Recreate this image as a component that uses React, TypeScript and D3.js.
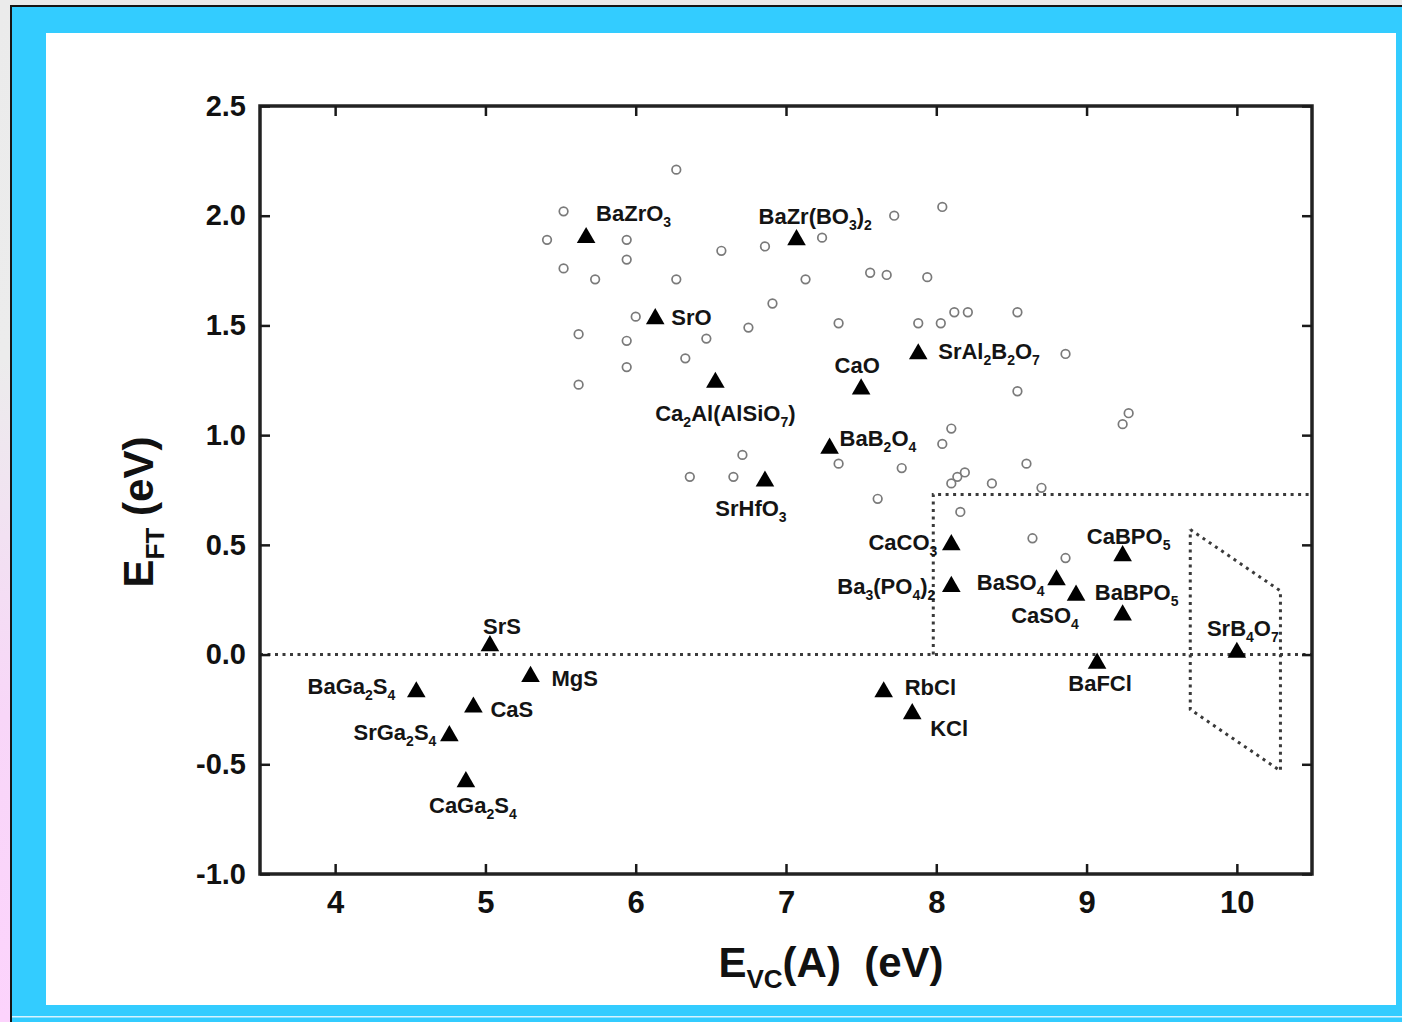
import React, { useEffect, useRef } from 'react';
import * as d3 from 'd3';

// labelled compounds (filled triangles)
const compounds = [
  'BaZrO3', 'BaZr(BO3)2', 'SrO', 'Ca2Al(AlSiO7)', 'CaO', 'SrAl2B2O7', 'BaB2O4', 'SrHfO3',
  'CaCO3', 'Ba3(PO4)2', 'BaSO4', 'CaSO4', 'CaBPO5', 'BaBPO5', 'SrB4O7', 'BaFCl',
  'RbCl', 'KCl', 'SrS', 'MgS', 'BaGa2S4', 'CaS', 'SrGa2S4', 'CaGa2S4',
];
const evcA = [
  5.67, 7.07, 6.13, 6.53, 7.50, 7.88, 7.29, 6.86,
  8.10, 8.10, 8.80, 8.93, 9.24, 9.24, 10.0, 9.07,
  7.65, 7.84, 5.03, 5.30, 4.54, 4.92, 4.76, 4.87,
];
const eft = [
  1.90, 1.89, 1.53, 1.24, 1.21, 1.37, 0.94, 0.79,
  0.50, 0.31, 0.34, 0.27, 0.45, 0.18, 0.01, -0.04,
  -0.17, -0.27, 0.04, -0.10, -0.17, -0.24, -0.37, -0.58,
];

// unlabelled compounds (open circles)
const otherX = [
  6.27, 5.52, 5.41, 5.94, 5.94, 5.52, 5.73, 6.27, 6.57, 6.86, 7.24, 7.72, 8.04, 7.13,
  7.56, 7.67, 7.94, 6.91, 6.00, 6.47, 6.75, 5.62, 5.94, 7.35, 7.88, 8.03, 8.12, 8.21,
  8.54, 6.33, 5.94, 5.62, 8.86, 8.54, 9.24, 9.28, 8.10, 8.04, 7.35, 7.77, 8.60, 7.61,
  8.19, 8.14, 8.10, 8.37, 8.70, 8.16, 8.64, 8.86, 6.71, 6.36, 6.65,
];
const otherY = [
  2.21, 2.02, 1.89, 1.89, 1.80, 1.76, 1.71, 1.71, 1.84, 1.86, 1.90, 2.00, 2.04, 1.71,
  1.74, 1.73, 1.72, 1.60, 1.54, 1.44, 1.49, 1.46, 1.43, 1.51, 1.51, 1.51, 1.56, 1.56,
  1.56, 1.35, 1.31, 1.23, 1.37, 1.20, 1.05, 1.10, 1.03, 0.96, 0.87, 0.85, 0.87, 0.71,
  0.83, 0.81, 0.78, 0.78, 0.76, 0.65, 0.53, 0.44, 0.91, 0.81, 0.81,
];

const xTicks = [4, 5, 6, 7, 8, 9, 10];
const yTicks = [2.5, 2.0, 1.5, 1.0, 0.5, 0.0, -0.5, -1.0];

// dotted guide lines (data coords)
const zeroLine = [[3.5, 0], [10.5, 0]];
const regionA = [[7.98, 0], [7.98, 0.73], [10.5, 0.73]];
const regionB = [[9.69, 0.57], [10.29, 0.29], [10.29, -0.53], [9.69, -0.25], [9.69, 0.57]];

// label placement: anchor, dx, dy (px from marker)
const labelPlace: [string, number, number][] = [
  ['start', 10, -17], ['start', -38, -16], ['start', 16, 6], ['middle', 10, 39],
  ['middle', -4, -16], ['start', 20, 5], ['start', 10, -2], ['middle', -14, 35],
  ['end', -14, 5], ['end', -16, 7], ['end', -12, 10], ['middle', -31, 28],
  ['middle', 6, -12], ['middle', 14, -15], ['middle', 6, -16], ['middle', 3, 28],
  ['start', 21, 3], ['start', 18, 22], ['middle', 12, -12], ['start', 21, 9],
  ['end', -21, 2], ['start', 17, 10], ['end', -13, 4], ['middle', 7, 31],
];

const W = 1402;
const H = 1022;
const L = 260, R = 1312, T = 106, B = 874;

const x = d3.scaleLinear().domain([3.5, 10.5]).range([L, R]);
const y = d3.scaleLinear().domain([-1, 2.5]).range([B, T]);

const fmt = (d: number) => d.toFixed(1).replace('\u2212', '-');

function Formula({ name, sub = 14, shift = 6 }: { name: string; sub?: number; shift?: number }) {
  const parts = name.split(/(\d+)/).filter((s) => s !== '');
  let down = false;
  return (
    <>
      {parts.map((p, i) => {
        const isSub = /^\d+$/.test(p);
        let dy: number | undefined;
        if (isSub && !down) { dy = shift; down = true; }
        else if (!isSub && down) { dy = -shift; down = false; }
        return (
          <tspan key={i} dy={dy} fontSize={isSub ? sub : undefined}>{p}</tspan>
        );
      })}
    </>
  );
}

export default function App() {
  const axRef = useRef<SVGGElement>(null);

  useEffect(() => {
    const g = d3.select(axRef.current);
    g.selectAll('*').remove();

    const bottom = g.append('g').attr('transform', `translate(0,${B})`)
      .call(d3.axisBottom(x).tickValues(xTicks).tickSize(-10).tickPadding(17).tickFormat(d3.format('d')));
    const left = g.append('g').attr('transform', `translate(${L},0)`)
      .call(d3.axisLeft(y).tickValues(yTicks).tickSize(-10).tickPadding(14).tickFormat((d) => fmt(+d)));
    const top = g.append('g').attr('transform', `translate(0,${T})`)
      .call(d3.axisTop(x).tickValues(xTicks).tickSize(-10).tickFormat(() => ''));
    const right = g.append('g').attr('transform', `translate(${R},0)`)
      .call(d3.axisRight(y).tickValues(yTicks).tickSize(-10).tickFormat(() => ''));

    [bottom, left, top, right].forEach((a) => {
      a.select('.domain').remove();
      a.selectAll('.tick line').attr('stroke', '#1a1a1a').attr('stroke-width', 2.5);
      a.selectAll('.tick text')
        .attr('fill', '#111')
        .attr('font-family', '"Liberation Sans", Arial, sans-serif')
        .attr('font-weight', 'bold');
    });
    bottom.selectAll('.tick text').attr('font-size', 31);
    left.selectAll('.tick text').attr('font-size', 29);
  }, []);

  const line = d3.line<number[]>().x((d) => x(d[0])).y((d) => y(d[1]));
  const tri = d3.symbol().type(d3.symbolTriangle).size(150)();

  return (
    <svg width={W} height={H} style={{ position: 'absolute', left: 0, top: 0 }}
      fontFamily='"Liberation Sans", Arial, sans-serif'>
      <defs>
        <linearGradient id="edge" x1="0" y1="0" x2="0" y2="1">
          <stop offset="0" stopColor="#ebebeb" />
          <stop offset="0.35" stopColor="#ececec" />
          <stop offset="0.7" stopColor="#f8d6f8" />
          <stop offset="1" stopColor="#fcd3fc" />
        </linearGradient>
      </defs>
      {/* page frame */}
      <rect x={0} y={0} width={W} height={H} fill="#e9e9e9" />
      <rect x={0} y={0} width={11} height={H} fill="url(#edge)" />
      <rect x={10} y={5} width={W - 10} height={H - 5} fill="#151515" />
      <rect x={12} y={7} width={W - 12} height={H - 7} fill="#33ccff" />
      <rect x={12} y={1016} width={W - 12} height={1.5} fill="#d8f4ff" />
      <rect x={46} y={33} width={1350} height={972} fill="#ffffff" />

      {/* dotted guides */}
      <g fill="none" stroke="#3a3a3a" strokeWidth={3} strokeDasharray="3 4.5">
        <path d={line(zeroLine) || ''} />
        <path d={line(regionA) || ''} />
        <path d={line(regionB) || ''} />
      </g>

      {/* open circles */}
      <g fill="none" stroke="#7a7a7a" strokeWidth={1.7}>
        {otherX.map((v, i) => (
          <circle key={i} cx={x(v)} cy={y(otherY[i])} r={4.3} />
        ))}
      </g>

      {/* triangles + labels */}
      <g>
        {compounds.map((c, i) => (
          <path key={c} d={tri || ''} transform={`translate(${x(evcA[i])},${y(eft[i])})`} fill="#000" />
        ))}
      </g>
      <g fontSize={22} fontWeight="bold" fill="#141414">
        {compounds.map((c, i) => {
          const [anchor, dx, dy] = labelPlace[i];
          return (
            <text key={c} x={x(evcA[i]) + dx} y={y(eft[i]) + dy} textAnchor={anchor}>
              <Formula name={c} />
            </text>
          );
        })}
      </g>

      {/* plot frame */}
      <rect x={L} y={T} width={R - L} height={B - T} fill="none" stroke="#222" strokeWidth={3.5} />
      <g ref={axRef} />

      {/* axis titles */}
      <text x={831} y={977} textAnchor="middle" fontSize={42} fontWeight="bold" fill="#111">
        E<tspan fontSize={26} dy={11}>VC</tspan><tspan dy={-11}>{'(A)\u00a0\u00a0(eV)'}</tspan>
      </text>
      <text transform="translate(153,512) rotate(-90)" textAnchor="middle" fontSize={42} fontWeight="bold" fill="#111">
        E<tspan fontSize={26} dy={11}>FT</tspan><tspan dy={-11}>{'\u00a0(eV)'}</tspan>
      </text>
    </svg>
  );
}
